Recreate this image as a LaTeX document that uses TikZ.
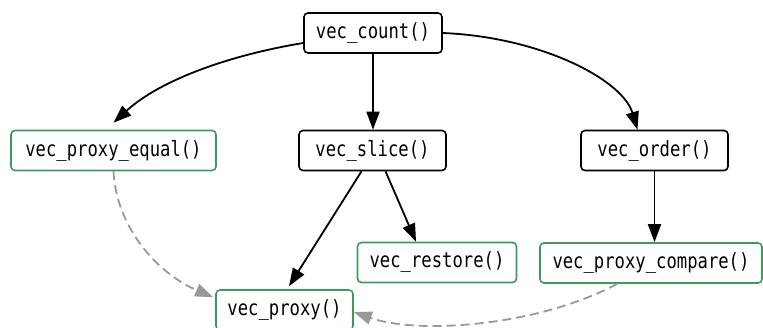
\documentclass[tikz,border=0pt]{standalone}
\usepackage{fontspec}
\usepackage{tikz}
\usetikzlibrary{arrows.meta}
\newfontfamily\codefont[FakeStretch=0.82]{DejaVu Sans Mono}
\definecolor{fngreen}{HTML}{3C9A5F}
\definecolor{weakgray}{HTML}{999999}

\begin{document}
\begin{tikzpicture}[x=1pt, y=-1pt,
        fn/.style={draw=black, line width=1.6pt, rounded corners=4pt,
            minimum height=40pt, inner sep=0pt,
            font=\codefont\fontsize{21pt}{21pt}\selectfont},
        exported/.style={fn, draw=fngreen},
        call/.style={line width=1.8pt, -{Triangle[length=18pt,width=13pt]}},
        weak/.style={call, draw=weakgray, fill=none, dash pattern=on 9pt off 5pt,
            -{Triangle[length=18pt,width=13pt,fill=weakgray]}}]
            \useasboundingbox (0,0) rectangle (763,327);
            \fill[white] (0,0) rectangle (763,327);
            \foreach \n/\x/\y/\w/\t in {count/373/33/138/vec\_count(),
                    slice/372.5/150.5/147/vec\_slice(),
                    order/654.5/150.5/147/vec\_order()}{%
                    \node[fn, minimum width=\w pt] (\n) at (\x,\y) {\t};
                }
            \foreach \n/\x/\y/\w/\t in {equal/113.5/150.5/205/vec\_proxy\_equal(),
                    restore/437/262.5/159/vec\_restore(),
                    compare/651/263/222/vec\_proxy\_compare(),
                    proxy/284.5/310/137/vec\_proxy()}{%
                    \node[exported, minimum width=\w pt] (\n) at (\x,\y) {\t};
                }
            % calls
            \draw[call] ([yshift=-10pt]count.west) .. controls +(-73,12) and +(47,-43) .. ([yshift=7pt]equal.north);
            \draw[call] (count.south) -- (count.south |- slice.north);
            \draw[call] (count.east) .. controls +(98,4) and +(-15,-50) .. ([xshift=-17pt]order.north);
            \draw[call] ([xshift=-11pt]slice.south) -- ([xshift=4.5pt,yshift=3pt]proxy.north);
            \draw[call] ([xshift=13pt]slice.south) -- ([xshift=-21pt]restore.north);
            \draw[call] (order.south) -- (order.south |- compare.north);
            % proxies
            \draw[weak] (equal.south) .. controls +(3,58) and +(-54,-23) .. ([xshift=-2pt,yshift=-8pt]proxy.north west);
            \draw[weak] ([xshift=78pt]compare.south west) .. controls +(-78,42) and +(65,23) .. ([yshift=-2pt]proxy.east);
        \end{tikzpicture}
\end{document}
